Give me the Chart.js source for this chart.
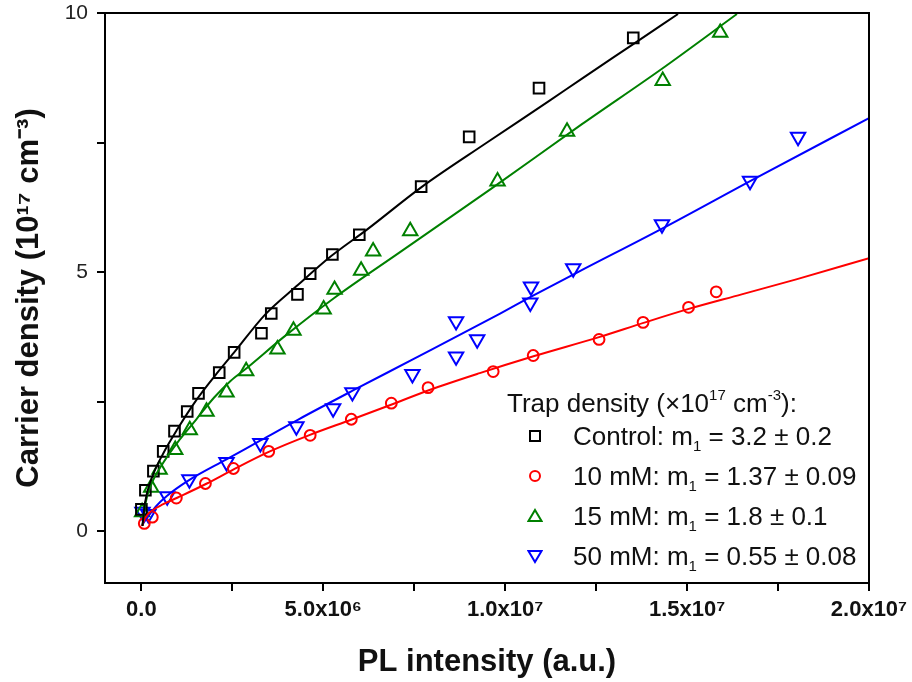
<!DOCTYPE html>
<html><head><meta charset="utf-8">
<script src="https://cdn.jsdelivr.net/npm/chart.js@4.4.1/dist/chart.umd.min.js"></script>
<style>
html,body{margin:0;padding:0;background:#fff;}
#wrap{position:relative;width:912px;height:682px;overflow:hidden;}
#c{position:absolute;left:0;top:0;}
.lg{position:absolute;font-family:'Liberation Sans',Arial,sans-serif;font-size:26px;line-height:26px;color:#111;white-space:nowrap;}
.lg sup{font-size:15px;position:relative;top:-12px;line-height:0;vertical-align:baseline;}
.lg sub{font-size:15px;position:relative;top:6px;line-height:0;vertical-align:baseline;}
.mk{position:absolute;}
</style></head>
<body><div id="wrap"><canvas id="c" width="912" height="682"></canvas></div>
<script>
// ---- data (x in units of 1e6 a.u., y in 1e17 cm^-3) ----
const controlX = [0.00,0.11,0.33,0.60,0.91,1.26,1.57,2.14,2.55,3.30,3.57,4.29,4.64,5.25,5.99,7.69,9.01,10.93,13.52];
const controlY = [0.42,0.79,1.16,1.54,1.93,2.31,2.66,3.06,3.45,3.82,4.20,4.57,4.97,5.34,5.72,6.65,7.61,8.55,9.52];
const mM10X = [0.08,0.30,0.96,1.76,2.53,3.50,4.64,5.77,6.87,7.88,9.67,10.77,12.58,13.79,15.04,15.80];
const mM10Y = [0.15,0.27,0.64,0.92,1.21,1.54,1.85,2.16,2.47,2.77,3.08,3.39,3.70,4.03,4.32,4.62];
const mM15X = [0.02,0.27,0.50,0.93,1.33,1.79,2.34,2.88,3.74,4.18,5.01,5.31,6.04,6.37,7.39,9.79,11.70,14.33,15.91];
const mM15Y = [0.37,0.84,1.19,1.57,1.95,2.31,2.68,3.09,3.51,3.87,4.28,4.66,5.03,5.40,5.79,6.75,7.71,8.69,9.62];
const mM50X = [0.03,0.19,0.71,1.32,2.34,3.27,4.26,5.27,5.80,7.45,8.65,9.23,8.65,10.69,10.71,11.87,14.31,16.73,18.05];
const mM50Y = [0.37,0.33,0.67,1.00,1.33,1.70,2.02,2.37,2.68,3.03,3.37,3.70,4.05,4.41,4.72,5.07,5.92,6.76,7.61];
// fitted curves
const controlFitX = [0.03,0.10,0.30,0.60,1.00,1.50,2.00,2.55,3.40,4.30,5.20,6.20,7.70,9.50,11.20,12.10,13.50,14.75];
const controlFitY = [0.10,0.55,1.05,1.50,1.98,2.52,2.98,3.45,4.18,4.75,5.30,5.82,6.64,7.50,8.30,8.73,9.39,9.98];
const mM10FitX = [0.02,0.10,0.30,0.60,1.00,1.80,2.50,3.50,4.60,5.80,6.90,7.90,9.30,10.80,12.60,13.80,15.00,16.50,18.00,20.00];
const mM10FitY = [0.10,0.25,0.40,0.52,0.65,0.92,1.18,1.53,1.85,2.16,2.45,2.72,3.05,3.38,3.75,4.02,4.28,4.57,4.86,5.27];
const mM15FitX = [0.03,0.10,0.30,0.60,1.00,1.50,2.00,2.45,2.90,3.90,5.30,7.10,9.60,12.10,14.30,16.37];
const mM15FitY = [0.10,0.50,0.95,1.32,1.72,2.15,2.58,2.90,3.15,3.74,4.50,5.38,6.60,7.85,8.92,9.98];
const mM50FitX = [0.02,0.15,0.40,0.70,1.30,2.35,3.30,4.30,5.83,7.50,9.86,10.70,12.00,14.26,16.90,20.00];
const mM50FitY = [0.12,0.25,0.48,0.68,0.98,1.39,1.76,2.15,2.72,3.33,4.20,4.52,5.00,5.82,6.82,7.97];

const xScaleUnit = 1e6;
const xTickValues = [0,2.5e6,5e6,7.5e6,1e7,1.25e7,1.5e7,1.75e7,2e7];
const xMajorTicks = [0,5e6,1e7,1.5e7,2e7];
const xMajorLabels = ['0.0','5.0x10\u2076','1.0x10\u2077','1.5x10\u2077','2.0x10\u2077'];
const yTickValues = [0,2.5,5,7.5,10];
const yMajorTicks = [0,5,10];
const yMajorLabels = ['0','5','10'];

const seriesNames = ['Control','10 mM','15 mM','50 mM'];
const seriesM1 = ['3.2 \u00b1 0.2','1.37 \u00b1 0.09','1.8 \u00b1 0.1','0.55 \u00b1 0.08'];
const seriesColors = ['#000000','#ff0000','#008000','#0000ff'];
const seriesStyles = ['rect','circle','triangle','triangle'];
const seriesRot = [0,0,0,180];
const seriesRadius = [7.5,5.4,8.3,8.3];

const ptsX = [controlX,mM10X,mM15X,mM50X];
const ptsY = [controlY,mM10Y,mM15Y,mM50Y];
const fitX = [controlFitX,mM10FitX,mM15FitX,mM50FitX];
const fitY = [controlFitY,mM10FitY,mM15FitY,mM50FitY];

const toXY = (xs, ys) => xs.map((x,i)=>({x:x*xScaleUnit, y:ys[i]}));

const datasets = [];
for (let i=0;i<4;i++){
  datasets.push({
    label: seriesNames[i]+' fit', data: toXY(fitX[i],fitY[i]), showLine:true,
    borderColor: seriesColors[i], borderWidth: 2, pointRadius: 0, fill:false,
    cubicInterpolationMode:'monotone'
  });
}
for (let i=0;i<4;i++){
  datasets.push({
    label: seriesNames[i], data: toXY(ptsX[i],ptsY[i]), showLine:false,
    borderColor: seriesColors[i], backgroundColor:'rgba(0,0,0,0)', borderWidth: 2,
    pointStyle: seriesStyles[i], pointRotation: seriesRot[i], pointRadius: seriesRadius[i]
  });
}

const framePlugin = {
  id:'frame',
  afterDraw(chart){
    const {ctx, chartArea:a} = chart;
    ctx.save();
    ctx.strokeStyle='#000'; ctx.lineWidth=2;
    ctx.beginPath();
    ctx.moveTo(a.left, a.top); ctx.lineTo(a.right, a.top); ctx.lineTo(a.right, a.bottom);
    ctx.stroke();
    ctx.restore();
  }
};

const FONT = "'Liberation Sans', Arial, sans-serif";
new Chart(document.getElementById('c'), {
  type:'scatter',
  data:{datasets},
  plugins:[framePlugin],
  options:{
    responsive:false, animation:false,
    layout:{padding:{top:13,right:43,left:0,bottom:0}},
    plugins:{legend:{display:false}, tooltip:{enabled:false}},
    scales:{
      x:{
        type:'linear', min:-1e6, max:2e7,
        afterBuildTicks(s){ s.ticks = xTickValues.map(v=>({value:v})); },
        afterFit(s){ s.height = 99; s.paddingLeft = 0; s.paddingRight = 0; },
        border:{color:'#000', width:2},
        grid:{drawOnChartArea:false, drawTicks:true, tickLength:8, tickWidth:2, tickColor:'#000', color:'#000', lineWidth:2},
        ticks:{
          autoSkip:false, maxRotation:0, padding:6, color:'#111',
          font:{family:"'Liberation Sans Narrow','Liberation Sans',Arial,sans-serif", size:22, weight:'bold'},
          callback(v){ const k = xMajorTicks.indexOf(v); return k>=0 ? xMajorLabels[k] : ''; }
        },
        title:{display:true, text:'PL intensity (a.u.)', color:'#111',
          font:{family:FONT, size:31, weight:'bold'}, padding:{top:0,bottom:1}}
      },
      y:{
        type:'linear', min:-1, max:10,
        afterBuildTicks(s){ s.ticks = yTickValues.map(v=>({value:v})); },
        afterFit(s){ s.width = 105; s.paddingTop = 0; s.paddingBottom = 0; },
        border:{color:'#000', width:2},
        grid:{drawOnChartArea:false, drawTicks:true, tickLength:8, tickWidth:2, tickColor:'#000', color:'#000', lineWidth:2},
        ticks:{
          autoSkip:false, padding:9, color:'#222',
          font:{family:FONT, size:21},
          callback(v){ const k = yMajorTicks.indexOf(v); return k>=0 ? yMajorLabels[k] : ''; }
        },
        title:{display:true, text:'Carrier density (10\u00b9\u2077 cm\u207b\u00b3)', color:'#111',
          font:{family:FONT, size:31, weight:'bold'}, padding:{top:11,bottom:0}}
      }
    }
  }
});

// ---- legend (HTML text) ----
const wrap = document.getElementById('wrap');
const title = document.createElement('div');
title.className='lg';
title.style.left='507px'; title.style.top='390px';
title.innerHTML='Trap density (\u00d710<sup>17</sup> cm<sup>-3</sup>):';
wrap.appendChild(title);
const rowBase = [445,485,525,565];
function markerSVG(style, rot, color){
  let shape='';
  if (style==='rect') shape='<rect x="3" y="3" width="10" height="10" fill="none" stroke="'+color+'" stroke-width="2"/>';
  else if (style==='circle') shape='<circle cx="8" cy="8" r="5" fill="none" stroke="'+color+'" stroke-width="2"/>';
  else if (rot===0) shape='<polygon points="8,2 14.5,13 1.5,13" fill="none" stroke="'+color+'" stroke-width="2"/>';
  else shape='<polygon points="8,14 14.5,3 1.5,3" fill="none" stroke="'+color+'" stroke-width="2"/>';
  return '<svg width="16" height="16" viewBox="0 0 16 16">'+shape+'</svg>';
}
for (let i=0;i<4;i++){
  const row = document.createElement('div');
  row.className='lg';
  row.style.left='573px'; row.style.top=(rowBase[i]-22)+'px';
  row.innerHTML = seriesNames[i]+': m<sub>1</sub> = '+seriesM1[i];
  wrap.appendChild(row);
  const mk = document.createElement('div');
  mk.className='mk';
  mk.style.left='527px'; mk.style.top=(rowBase[i]-9-8)+'px';
  mk.innerHTML = markerSVG(seriesStyles[i], seriesRot[i], seriesColors[i]);
  wrap.appendChild(mk);
}
</script>
</body></html>
